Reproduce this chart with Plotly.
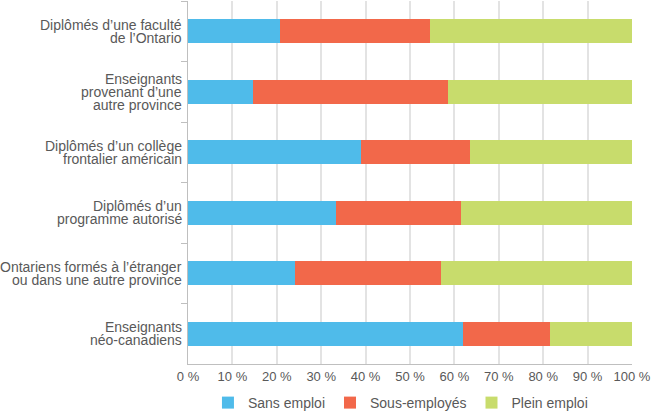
import plotly.graph_objects as go

categories = [
    "Diplômés d’une faculté<br>de l’Ontario",
    "Enseignants<br>provenant d’une<br>autre province",
    "Diplômés d’un collège<br>frontalier américain",
    "Diplômés d’un<br>programme autorisé",
    "Ontariens formés à l’étranger<br>ou dans une autre province",
    "Enseignants<br>néo-canadiens",
]
sans_emploi = [20.7, 14.6, 39.0, 33.4, 24.1, 62.0]
sous_employes = [33.8, 44.0, 24.6, 28.1, 32.9, 19.6]
plein_emploi = [45.5, 41.4, 36.4, 38.5, 43.0, 18.4]
x_ticks = list(range(0, 101, 10))
x_labels = [f"{v} %" for v in x_ticks]

fig = go.Figure()
for name, vals, col in [("Sans emploi", sans_emploi, "#4fbbea"),
                        ("Sous-employés", sous_employes, "#f2684a"),
                        ("Plein emploi", plein_emploi, "#c8dc6c")]:
    fig.add_trace(go.Bar(y=categories, x=vals, name=name, orientation="h",
                         marker=dict(color=col, line_width=0), width=0.4))

# category labels, one annotation per line so the line spacing stays tight
line_h = 13
for cat in categories:
    lines = cat.split("<br>")
    n = len(lines)
    for i, txt in enumerate(lines):
        fig.add_annotation(x=0, xref="paper", y=cat, yref="y", text=txt,
                           showarrow=False, xanchor="right", yanchor="middle",
                           xshift=-4, yshift=((n - 1) / 2 - i) * line_h,
                           font=dict(size=14, color="#595959"))

fig.update_layout(
    barmode="stack",
    width=656, height=413,
    margin=dict(l=188, r=24, t=1, b=49),
    plot_bgcolor="white", paper_bgcolor="white",
    font=dict(family="Liberation Sans, Arial", size=13, color="#595959"),
    showlegend=True,
    legend=dict(orientation="h", xref="container", x=0.317, xanchor="left",
                yref="container", y=10 / 413, yanchor="middle",
                font=dict(size=14), traceorder="normal", itemwidth=30),
)
fig.update_xaxes(range=[0, 100], tickvals=x_ticks, ticktext=x_labels,
                 showgrid=True, gridcolor="#e3e3e3", gridwidth=1.5,
                 showline=True, linecolor="#bfbfbf", zeroline=False,
                 ticks="", fixedrange=True, tickfont=dict(size=13))
fig.update_yaxes(autorange="reversed", showline=True, linecolor="#bfbfbf",
                 ticks="outside", tickson="boundaries", ticklen=6, tickcolor="#bfbfbf",
                 showticklabels=False, showgrid=False, fixedrange=True)

fig.write_html("out.html", config={"displayModeBar": False},
               post_script="document.body.style.margin='0px';")
